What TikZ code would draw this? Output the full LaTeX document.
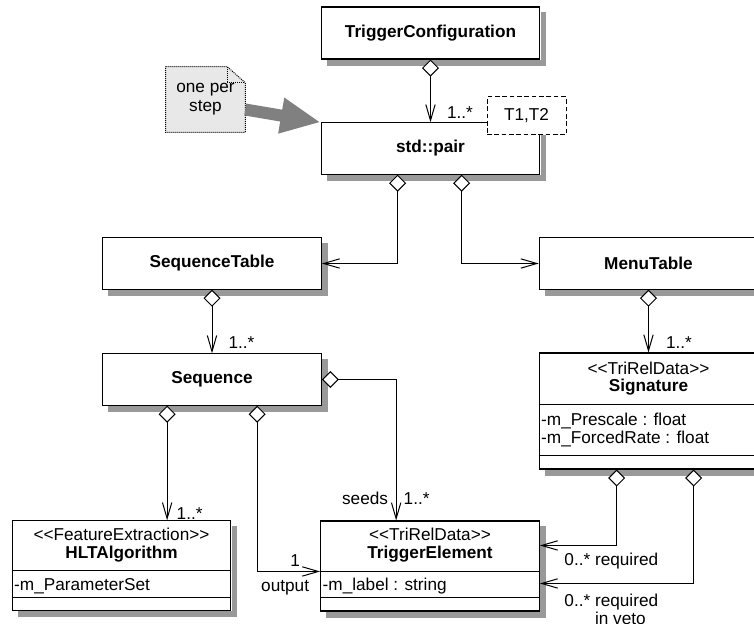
\documentclass[tikz,border=0pt]{standalone}
\usepackage{fontspec}
\setmainfont{Liberation Sans}
\usetikzlibrary{arrows.meta,calc,backgrounds}
\newcommand\stype[1]{<\kern0pt<#1>\kern0pt>}

\begin{document}
\begin{tikzpicture}[
  x=0.75pt, y=-0.75pt,
  every node/.style={font=\fontsize{12.9}{13.5}\selectfont, inner sep=1pt},
  umlbox/.style={draw, line width=0.8pt, fill=white, minimum width=164pt, minimum height=38.5pt},
  boxedge/.style={draw=gray!80, line width=4.05pt},
  cname/.style={font=\fontsize{12.9}{13.5}\selectfont\bfseries},
  sep/.style={line width=0.8pt},
  agg/.style={line width=0.75pt,
    {Diamond[fill=white,length=12.75pt,width=12.75pt]}-{Straight Barb[length=12pt,width=7pt]}},
  notept/.style={draw=gray, line width=9pt, -{Triangle[length=30pt,width=25pt]}}
]
\useasboundingbox (0,0) rectangle (754,624);

\node[umlbox, cname, minimum height=39pt] (trigcfg) at (430.5,33) {TriggerConfiguration};
\node[umlbox, cname] (pair) at (430.5,148.5) {std::pair};
\node[umlbox, cname] (seqtab) at (212,263.5) {SequenceTable};
\node[umlbox, cname] (seq) at (212,379.5) {Sequence};
\node[umlbox, cname] (menutab) at (648.5,263.5) {MenuTable};
\node[umlbox, minimum height=87pt] (sig) at (648.5,411) {};
\node[umlbox, minimum height=67pt] (hlt) at (121.5,565.5) {};
\node[umlbox, minimum height=67.5pt] (trigel) at (430,566) {};

\foreach \q in {trigcfg,pair,seqtab,seq,menutab,sig,hlt,trigel} {
  \draw[boxedge] ($(\q.north east)+(3.3,6)$) -- ($(\q.south east)+(3.3,6)$);
  \draw[boxedge] ($(\q.south west)+(6,3.3)$) -- ($(\q.south east)+(0.6,3.3)$);
}

\node[draw, dashed, dash pattern=on 3.5pt off 2pt, line width=0.75pt, fill=white,
  minimum width=59.25pt, minimum height=28.5pt] (tmpl) at (526.5,116) {T1,T2};

\node (sigst) at ($(sig.north)+(0,16)$) {\stype{TriRelData}};
\node[cname] (signm) at ($(sig.north)+(0,35)$) {Signature};
\draw[sep] ($(sig.north west)+(0,52)$) -- ($(sig.north east)+(0,52)$);
\node[anchor=west, align=left] (sigat) at ($(sig.north west)+(1,78)$)
  {-m\_Prescale : float\\-m\_ForcedRate : float};
\draw[sep] ($(sig.north west)+(0,103)$) -- ($(sig.north east)+(0,103)$);

\node (hltst) at ($(hlt.north)+(0,14)$) {\stype{FeatureExtraction}};
\node[cname] (hltnm) at ($(hlt.north)+(0,34)$) {HLTAlgorithm};
\draw[sep] ($(hlt.north west)+(0,50)$) -- ($(hlt.north east)+(0,50)$);
\node[anchor=west] (hltat) at ($(hlt.north west)+(1,66)$) {-m\_ParameterSet};
\draw[sep] ($(hlt.north west)+(0,77)$) -- ($(hlt.north east)+(0,77)$);

\node (test) at ($(trigel.north)+(0,14)$) {\stype{TriRelData}};
\node[cname] (tenm) at ($(trigel.north)+(0,34)$) {TriggerElement};
\draw[sep] ($(trigel.north west)+(0,51)$) -- ($(trigel.north east)+(0,51)$);
\node[anchor=west] (teat) at ($(trigel.north west)+(1,66)$) {-m\_label : string};
\draw[sep] ($(trigel.north west)+(0,77)$) -- ($(trigel.north east)+(0,77)$);

\node[align=center, font=\fontsize{12.9}{14.25}\selectfont, minimum width=59.25pt,
  minimum height=48.75pt] (note) at (205.5,99.5) {one per\\step};
\begin{scope}[on background layer]
\draw[line width=0.75pt, dash pattern=on 0.75pt off 0.75pt, fill=black!9]
  (note.north west) -- ($(note.north east)+(-18,0)$) -- ($(note.north east)+(0,16)$)
  -- (note.south east) -- (note.south west) -- cycle;
\draw[line width=0.75pt, dash pattern=on 0.75pt off 0.75pt]
  ($(note.north east)+(-18,0)$) |- ($(note.north east)+(0,16)$);
\end{scope}
\draw[notept] ($(note.east)+(0,10)$) -- (pair.north west);

\coordinate (pra) at ($(pair.south west)+(77,0)$);
\coordinate (prb) at ($(pair.south west)+(141,0)$);
\coordinate (seqa) at ($(seq.south west)+(65,0)$);
\coordinate (seqb) at ($(seq.south west)+(155,0)$);
\coordinate (siga) at ($(sig.south west)+(78,0)$);
\coordinate (sigb) at ($(sig.south west)+(155,0)$);

\draw[agg] (trigcfg.south) -- (pair.north);
\draw[agg] (pra) |- (seqtab.east);
\draw[agg] (prb) |- (menutab.west);
\draw[agg] (seqtab.south) -- (seq.north);
\draw[agg] (menutab.south) -- (sig.north);
\draw[agg] (seqa) -- (seqa |- hlt.north);
\draw[agg] (seqb) |- ($(trigel.north west)+(0,51)$);
\draw[agg] (seq.east) -| ($(trigel.north west)+(76,0)$);
\draw[agg] (siga) |- ($(trigel.north east)+(0,25)$);
\draw[agg] (sigb) |- ($(trigel.north east)+(0,63)$);

\node[anchor=west] (m1) at ($(pair.north)+(15,-10)$) {1..*};
\node[anchor=west] (m2) at ($(seq.north)+(15,-11)$) {1..*};
\node[anchor=west] (m3) at ($(sig.north)+(16,-10)$) {1..*};
\node[anchor=west] (m4) at ($(seqa |- hlt.north)+(8,-7)$) {1..*};
\node[anchor=east] (seeds) at ($(trigel.north west)+(69.5,-22)$) {seeds};
\node[anchor=west] (m5) at ($(trigel.north west)+(82,-22)$) {1..*};
\node (m6) at ($(trigel.north west)+(-25,40)$) {1};
\node (outp) at ($(trigel.north west)+(-35,67)$) {output};
\node[anchor=west] (req) at ($(trigel.north east)+(23,41)$) {0..* required};
\node[anchor=west, align=left] (veto) at ($(trigel.north east)+(23,89)$)
  {0..* required\\\hphantom{0..* }in veto};
\end{tikzpicture}
\end{document}
